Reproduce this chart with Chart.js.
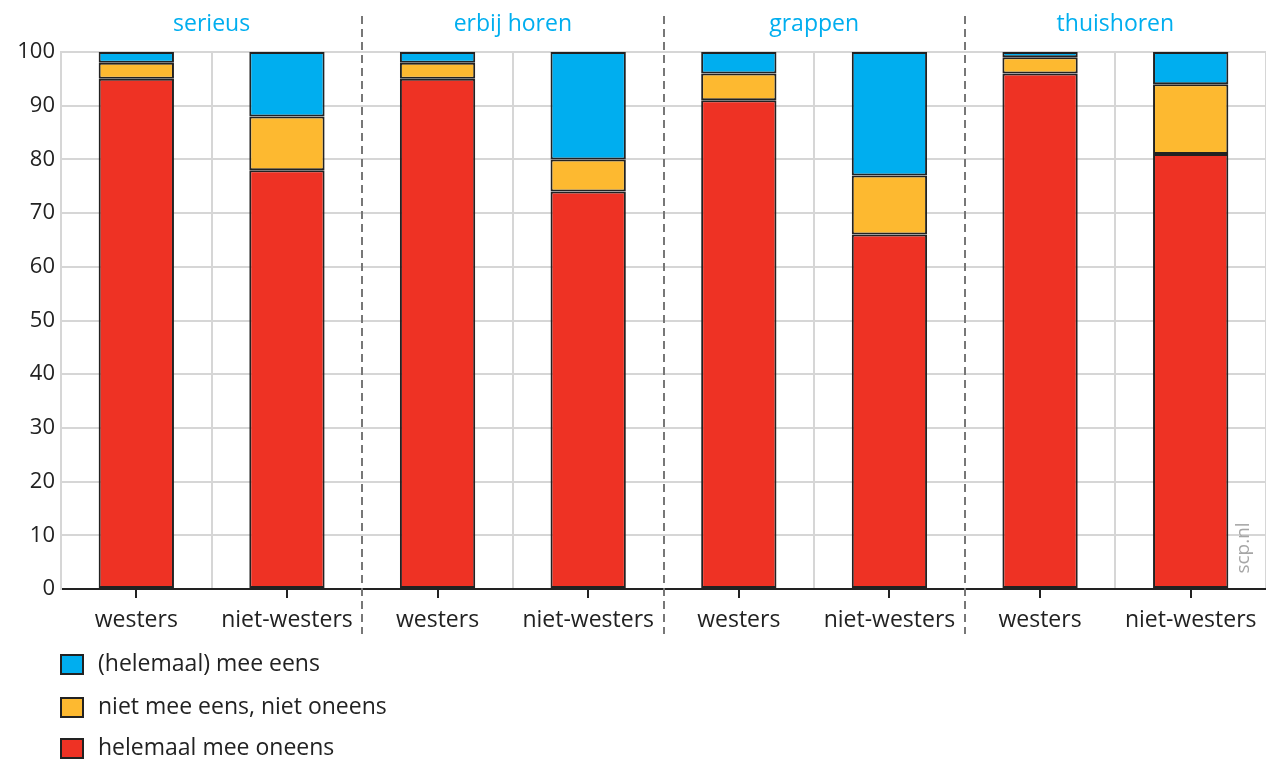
<!DOCTYPE html>
<html>
<head>
<meta charset="utf-8">
<script src="https://cdn.jsdelivr.net/npm/chart.js@4"></script>
<style>
  html, body { margin: 0; padding: 0; background: #fff; }
  #wrap { width: 1266px; height: 760px; }
</style>
</head>
<body>
<div id="wrap"><canvas id="barChart" width="1266" height="760"></canvas></div>
<script>
// data
var groups = ['serieus', 'erbij horen', 'grappen', 'thuishoren'];
var categories = ['westers', 'niet-westers', 'westers', 'niet-westers', 'westers', 'niet-westers', 'westers', 'niet-westers'];
var oneens = [95, 78, 95, 74, 91, 66, 96, 81];      // helemaal mee oneens
var neutraal = [3, 10, 3, 6, 5, 11, 3, 13];         // niet mee eens, niet oneens
var eens = [2, 12, 2, 20, 4, 23, 1, 6];             // (helemaal) mee eens
var yTicks = [0, 10, 20, 30, 40, 50, 60, 70, 80, 90, 100];

var FONT = "'Open Sans', 'Noto Sans', sans-serif";
var INK = '#222222';

// group titles, dashed separators, ticks, watermark and legend
var extras = {
    id: 'extras',
    afterDraw: function (chart) {
        var c = chart.ctx;
        var x = chart.scales.x;
        var area = chart.chartArea;
        c.save();

        // dashed group separators
        c.strokeStyle = '#777';
        c.lineWidth = 2;
        c.setLineDash([8, 5]);
        for (var g = 1; g < groups.length; g++) {
            var xs = (x.getPixelForValue(g * 2 - 1) + x.getPixelForValue(g * 2)) / 2;
            xs = Math.round(xs);
            c.beginPath();
            c.moveTo(xs, 16);
            c.lineTo(xs, 634);
            c.stroke();
        }
        c.setLineDash([]);

        // tick marks under the category centres
        c.strokeStyle = INK;
        c.lineWidth = 2;
        for (var i = 0; i < categories.length; i++) {
            var xc = Math.round(x.getPixelForValue(i));
            c.beginPath();
            c.moveTo(xc, area.bottom);
            c.lineTo(xc, area.bottom + 9);
            c.stroke();
        }

        // group titles
        c.fillStyle = '#00AEEF';
        c.font = '23px ' + FONT;
        c.textAlign = 'center';
        c.textBaseline = 'middle';
        for (var k = 0; k < groups.length; k++) {
            var xm = (x.getPixelForValue(k * 2) + x.getPixelForValue(k * 2 + 1)) / 2;
            c.fillText(groups[k], xm, 24);
        }

        // watermark
        c.save();
        c.translate(area.right - 22, area.bottom - 41);
        c.rotate(-Math.PI / 2);
        c.fillStyle = '#a6a6a6';
        c.font = '19px ' + FONT;
        c.fillText('scp.nl', 0, 0);
        c.restore();

        // legend, top item is the top segment
        var ds = chart.data.datasets.slice().reverse();
        var rows = [664, 707, 748];
        c.font = '23px ' + FONT;
        c.textAlign = 'left';
        for (var j = 0; j < ds.length; j++) {
            c.fillStyle = ds[j].backgroundColor;
            c.fillRect(61, rows[j] - 9, 22, 19);
            c.strokeStyle = INK;
            c.lineWidth = 2;
            c.strokeRect(61, rows[j] - 9, 22, 19);
            c.fillStyle = INK;
            c.fillText(ds[j].label, 98, rows[j]);
        }
        c.restore();
    }
};

var ctx = document.getElementById('barChart').getContext('2d');
var myChart = new Chart(ctx, {
    type: 'bar',
    data: {
        labels: categories,
        datasets: [{
            label: 'helemaal mee oneens',
            data: oneens,
            backgroundColor: '#EE3224'
        }, {
            label: 'niet mee eens, niet oneens',
            data: neutraal,
            backgroundColor: '#FDB930'
        }, {
            label: '(helemaal) mee eens',
            data: eens,
            backgroundColor: '#00AEEF'
        }]
    },
    options: {
        responsive: false,
        animation: false,
        devicePixelRatio: 1,
        layout: { padding: { top: 52, right: 0, bottom: 121, left: 0 } },
        datasets: {
            bar: {
                barPercentage: 0.5,
                categoryPercentage: 1,
                borderColor: INK,
                borderWidth: 2,
                borderSkipped: false
            }
        },
        plugins: {
            legend: { display: false },
            tooltip: { enabled: false }
        },
        scales: {
            x: {
                stacked: true,
                offset: true,
                afterFit: function (s) {
                    s.height = 50;
                    s.paddingLeft = 0;
                    s.paddingRight = 0;
                },
                grid: {
                    offset: true,
                    drawTicks: false,
                    lineWidth: 2,
                    color: function (ctx) {
                        var i = ctx.index;
                        return (i === 2 || i === 4 || i === 6) ? 'rgba(0,0,0,0)' : '#d6d6d6';
                    }
                },
                border: { display: true, color: INK, width: 2 },
                ticks: {
                    padding: 18,
                    color: INK,
                    font: { family: FONT, size: 23 }
                }
            },
            y: {
                stacked: true,
                min: 0,
                max: 100,
                afterFit: function (s) { s.width = 61; },
                afterBuildTicks: function (s) {
                    s.ticks = yTicks.map(function (v) { return { value: v }; });
                },
                grid: {
                    lineWidth: 2,
                    color: '#d6d6d6',
                    drawTicks: false
                },
                border: { display: true, color: '#d6d6d6', width: 2 },
                ticks: {
                    padding: 6,
                    color: INK,
                    font: { family: FONT, size: 22 }
                }
            }
        }
    },
    plugins: [extras]
});
</script>
</body>
</html>
